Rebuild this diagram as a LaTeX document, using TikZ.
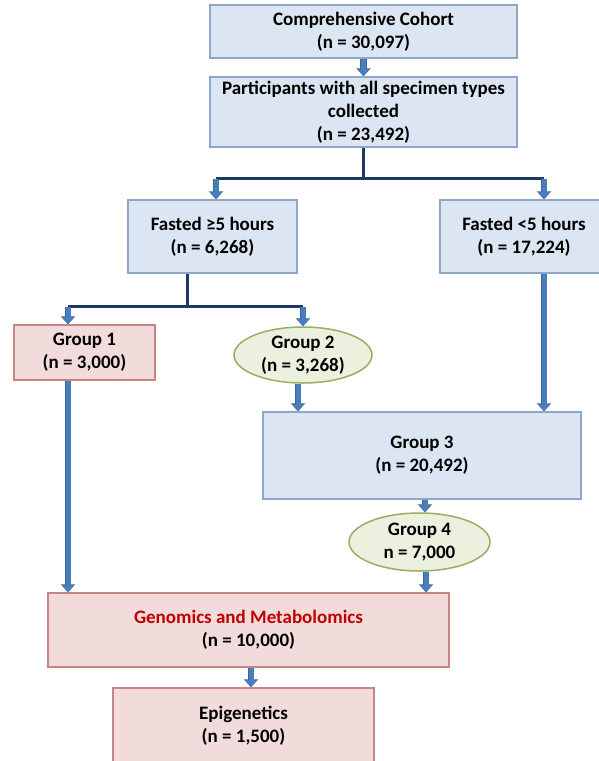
\documentclass[tikz,border=0pt]{standalone}
\usepackage{fontspec}
\setmainfont{Carlito}
\usetikzlibrary{shapes.geometric,arrows.meta,calc}

\definecolor{boxblue}{HTML}{DCE6F2}
\definecolor{edgeblue}{HTML}{8EA6C8}
\definecolor{boxpink}{HTML}{F2DCDB}
\definecolor{edgepink}{HTML}{C48584}
\definecolor{boxgreen}{HTML}{EBF1DE}
\definecolor{edgegreen}{HTML}{98AE62}
\definecolor{flowblue}{HTML}{4A7EBB}
\definecolor{flowedge}{HTML}{3A6596}
\definecolor{joinnavy}{HTML}{1F3A60}
\definecolor{titlered}{HTML}{C00000}

\tikzset{
  label font/.style={font=\bfseries\fontsize{19}{23}\selectfont},
  bluebox/.style={rectangle, draw=edgeblue, fill=boxblue, line width=1.5pt, align=center, inner sep=0pt, label font},
  pinkbox/.style={rectangle, draw=edgepink, fill=boxpink, line width=1.5pt, align=center, inner sep=0pt, label font},
  greenoval/.style={ellipse, draw=edgegreen, fill=boxgreen, line width=1.5pt, align=center, inner sep=0pt, label font},
  flow/.style={draw=flowblue, line width=5pt, -{Triangle[width=12pt,length=7pt]},
    preaction={draw=flowedge, line width=6.5pt, -{Triangle[width=14pt,length=8pt]}}},
  joinline/.style={draw=joinnavy, line width=3pt}
}

\begin{document}
\begin{tikzpicture}[x=1pt, y=-1pt]
    \useasboundingbox (0,0) rectangle (599,761);

    % Boxes
    \node[bluebox, minimum width=307, minimum height=53] (cohort) at (363.5,31.5)
        {Comprehensive Cohort\\(n = 30,097)};
    \node[bluebox, minimum width=307, minimum height=70] (collected) at (363.5,112)
        {Participants with all specimen types\\collected\\(n = 23,492)};
    \node[bluebox, minimum width=169, minimum height=73] (fasted) at (212.5,236.5)
        {Fasted ≥5 hours\\(n = 6,268)};
    \node[bluebox, minimum width=168, minimum height=73] (nonfasted) at (524,236.5)
        {Fasted <5 hours\\(n = 17,224)};
    \node[pinkbox, minimum width=141, minimum height=55] (group1) at (84.5,352.5)
        {Group 1\\(n = 3,000)};
    \node[greenoval, minimum width=138, minimum height=56] (group2) at (303,355)
        {Group 2\\(n = 3,268)};
    \node[bluebox, minimum width=318, minimum height=87] (group3) at (422,455.5)
        {Group 3\\(n = 20,492)};
    \node[greenoval, minimum width=141, minimum height=58] (group4) at (419.5,542)
        {Group 4\\n = 7,000};
    \node[pinkbox, minimum width=401, minimum height=74] (omics) at (248.5,630)
        {\textcolor{titlered}{Genomics and Metabolomics}\\(n = 10,000)};
    \node[pinkbox, minimum width=261, minimum height=76] (epigen) at (243.5,726)
        {Epigenetics\\(n = 1,500)};

    % Connectors
    \draw[flow] (cohort.south) -- (collected.north);
    \coordinate (split1) at ($(collected.south)+(0,31)$);
    \draw[joinline] (collected.south) -- (split1);
    \draw[joinline] ([xshift=3.5]fasted.north |- split1) -- ([xshift=20]nonfasted.north |- split1);
    \draw[flow] ([xshift=3.5]fasted.north |- split1) -- ([xshift=3.5]fasted.north);
    \draw[flow] ([xshift=20]nonfasted.north |- split1) -- ([xshift=20]nonfasted.north);

    \coordinate (split2) at ($([xshift=-25.5]fasted.south)+(0,33)$);
    \draw[joinline] ([xshift=-25.5]fasted.south) -- (split2);
    \draw[joinline] ([xshift=-16.5]group1.north |- split2) -- (group2.north |- split2);
    \draw[flow] ([xshift=-16.5]group1.north |- split2) -- ([xshift=-16.5]group1.north);
    \draw[flow] (group2.north |- split2) -- (group2.north);

    \draw[flow] ([xshift=20]nonfasted.south) -- ([xshift=20]nonfasted.south |- group3.north);
    \draw[flow] ([xshift=-5]group2.south) -- ([xshift=-5]group2.south |- group3.north);
    \draw[flow] ([xshift=3]group3.south) -- ([xshift=3]group3.south |- group4.north);
    \draw[flow] ([xshift=6.5]group4.south) -- ([xshift=6.5]group4.south |- omics.north);
    \draw[flow] ([xshift=-16.5]group1.south) -- ([xshift=-16.5]group1.south |- omics.north);
    \draw[flow] ([xshift=2.5]omics.south) -- ([xshift=2.5]omics.south |- epigen.north);
\end{tikzpicture}
\end{document}
